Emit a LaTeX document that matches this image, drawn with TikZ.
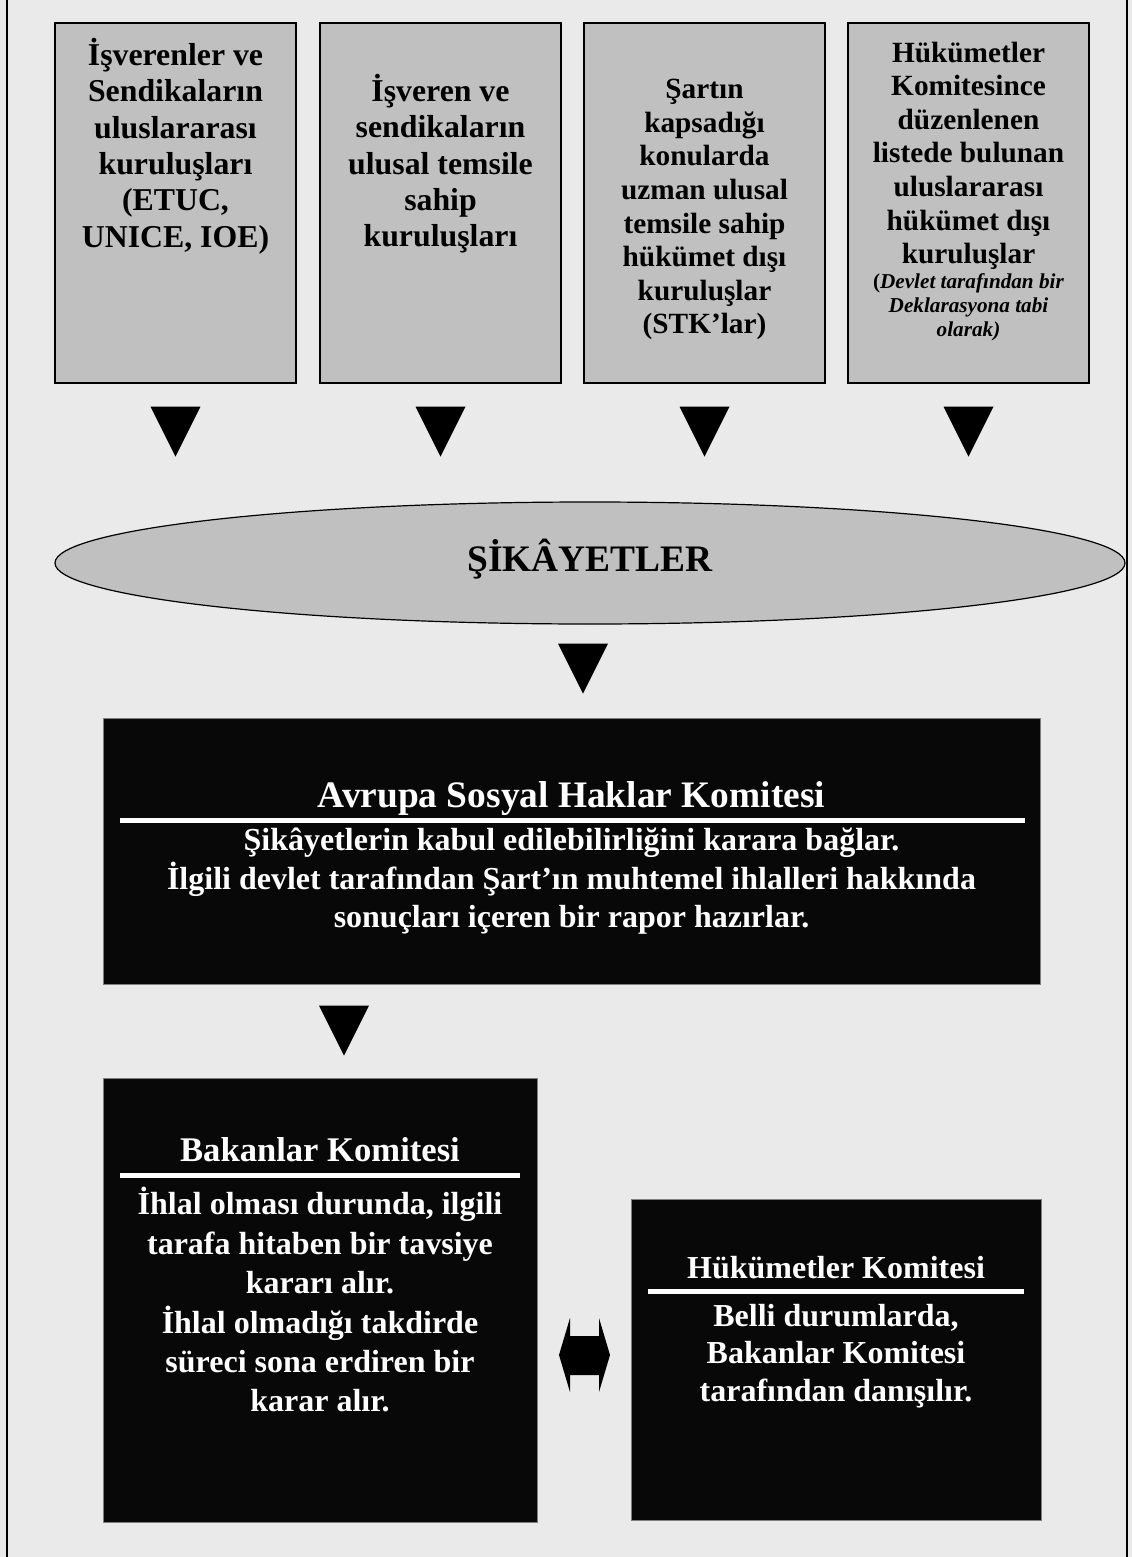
\documentclass[tikz,border=0pt]{standalone}
\usepackage{fontspec}
\setmainfont{Liberation Serif}
\usetikzlibrary{shapes.geometric,positioning}

\definecolor{pagegray}{HTML}{EAEAEA}
\definecolor{boxgray}{HTML}{C0C0C0}
\definecolor{nearblack}{HTML}{080808}

\begin{document}
\begin{tikzpicture}[x=0.5pt,y=-0.5pt,
  srcbox/.style={draw=black,line width=0.6pt,fill=boxgray,minimum width=120.5pt,minimum height=180pt,inner sep=0pt},
  srctext/.style={anchor=north,align=center,inner sep=0pt,font=\bfseries\fontsize{15.9}{18.15}\selectfont},
  srcsmall/.style={srctext,font=\bfseries\fontsize{14.65}{16.8}\selectfont},
  notetext/.style={anchor=north,align=center,inner sep=0pt,font=\bfseries\fontsize{10.6}{12}\selectfont},
  complaint/.style={ellipse,draw=black,line width=0.6pt,fill=boxgray,minimum width=535pt,minimum height=61pt,
    inner sep=0pt,text height=8pt,text depth=0pt,font=\bfseries\fontsize{18.7}{22}\selectfont},
  darkbox/.style={draw=gray,line width=0.4pt,fill=nearblack,inner sep=0pt},
  titletext/.style={anchor=base,inner sep=0pt,text=white,font=\bfseries\fontsize{#1}{#1}\selectfont},
  bodytext/.style={anchor=north,align=center,inner sep=0pt,text=white,font=\bfseries\fontsize{16}{#1}\selectfont},
  whiterule/.style={draw=white,line width=2.5pt},
  arrowtri/.style={fill=black},
  frameline/.style={draw=black,line width=0.75pt}]

\useasboundingbox[fill=pagegray] (0,0) rectangle (1132,1557);
\draw[frameline] (7,0) -- (7,1557);
\draw[frameline] (1127,0) -- (1127,1557);

% who may file
\node[srcbox] (src1) at (175.5,203) {};
\node[srcbox] (src2) at (440.5,203) {};
\node[srcbox] (src3) at (704.5,203) {};
\node[srcbox] (src4) at (968.5,203) {};

\node[srctext] (src1txt) at ([yshift=-7.8pt]src1.north)
  {İşverenler ve\\Sendikaların\\uluslararası\\kuruluşları\\(ETUC,\\UNICE, IOE)};
\node[srctext] (src2txt) at ([yshift=-25.8pt]src2.north)
  {İşveren ve\\sendikaların\\ulusal temsile\\sahip\\kuruluşları};
\node[srcsmall] (src3txt) at ([yshift=-28.2pt]src3.north)
  {Şartın\\kapsadığı\\konularda\\uzman ulusal\\temsile sahip\\hükümet dışı\\kuruluşlar\\(STK’lar)};
\node[srcsmall] (src4txt) at ([yshift=-9.5pt]src4.north)
  {Hükümetler\\Komitesince\\düzenlenen\\listede bulunan\\uluslararası\\hükümet dışı\\kuruluşlar};
\node[notetext,below=1.75pt of src4txt] (src4note)
  {(\textit{Devlet tarafından bir}\\\textit{Deklarasyona tabi}\\\textit{olarak)}};

\foreach \s in {src1,src2,src3,src4}
  \fill[arrowtri] (\s.south) ++(-25,23) -- ++(50,0) -- ++(-25,50) -- cycle;

% complaints
\node[complaint] (sikayet) at (590,563) {ŞİKÂYETLER};
\fill[arrowtri] (sikayet.south) ++(-32,19) -- ++(50,0) -- ++(-25,50) -- cycle;

% European Committee of Social Rights
\node[darkbox,minimum width=468.5pt,minimum height=133pt] (avrupa) at (571.5,851) {};
\node[titletext=18.7] (avrupatitle) at ([yshift=-45pt]avrupa.north) {Avrupa Sosyal Haklar Komitesi};
\draw[whiterule] ([xshift=8.5pt,yshift=-51.5pt]avrupa.north west) -- ([xshift=-7.5pt,yshift=-51.5pt]avrupa.north east);
\node[bodytext=19.25] (avrupabody) at ([yshift=-55pt]avrupa.north)
  {Şikâyetlerin kabul edilebilirliğini karara bağlar.\\İlgili devlet tarafından Şart’ın muhtemel ihlalleri hakkında\\sonuçları içeren bir rapor hazırlar.};

% Committee of Ministers
\node[darkbox,minimum width=217pt,minimum height=222pt] (bakanlar) at (320,1300) {};
\fill[arrowtri] (bakanlar.north) ++(-1,-72) -- ++(50,0) -- ++(-25,50) -- cycle;
\node[titletext=17.3] (bakanlartitle) at ([yshift=-42pt]bakanlar.north) {Bakanlar Komitesi};
\draw[whiterule] ([xshift=8.5pt,yshift=-49pt]bakanlar.north west) -- ([xshift=-8.5pt,yshift=-49pt]bakanlar.north east);
\node[bodytext=19.7] (bakanlarbody) at ([yshift=-54.7pt]bakanlar.north)
  {İhlal olması durunda, ilgili\\tarafa hitaben bir tavsiye\\kararı alır.\\İhlal olmadığı takdirde\\süreci sona erdiren bir\\karar alır.};

% Governmental Committee
\node[darkbox,minimum width=205pt,minimum height=160.5pt] (hukumet) at (836,1359.5) {};
\node[titletext=16] (hukumettitle) at ([yshift=-40pt]hukumet.north) {Hükümetler Komitesi};
\draw[whiterule] ([xshift=8.5pt,yshift=-46.25pt]hukumet.north west) -- ([xshift=-8.5pt,yshift=-46.25pt]hukumet.north east);
\node[bodytext=18.75] (hukumetbody) at ([yshift=-52.4pt]hukumet.north)
  {Belli durumlarda,\\Bakanlar Komitesi\\tarafından danışılır.};

% two-way consultation
\coordinate (consult) at (584,1355);
\fill[arrowtri] (consult) ++(-25,0) -- ++(11,-37) -- ++(0,18) -- ++(29,0) -- ++(0,-18) -- ++(11,37)
  -- ++(-11,37) -- ++(0,-17) -- ++(-29,0) -- ++(0,17) -- cycle;
\end{tikzpicture}
\end{document}
